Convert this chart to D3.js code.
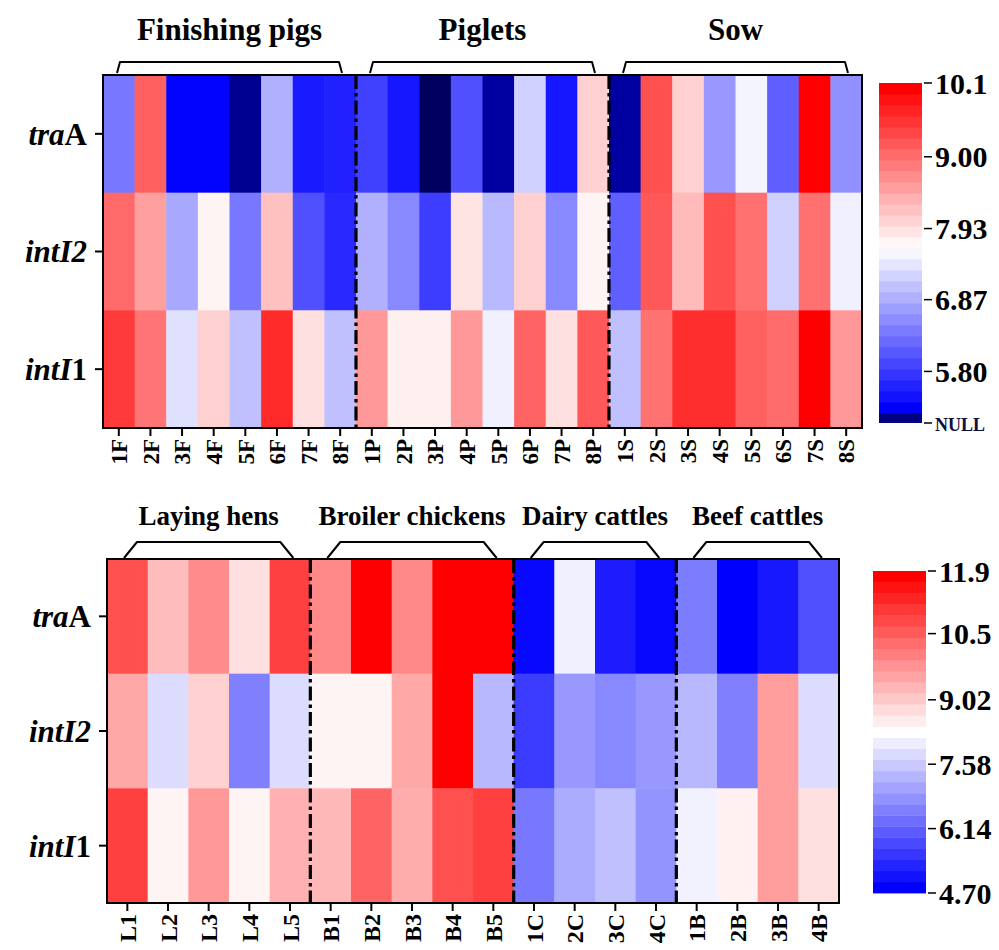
<!DOCTYPE html>
<html><head><meta charset="utf-8">
<script src="https://cdn.jsdelivr.net/npm/d3@7"></script>
<style>
body{margin:0;background:#fff}
svg{display:block}
text{font-family:"Liberation Serif","Times New Roman",serif;font-weight:bold;fill:#000}
</style>
</head><body>
<svg id="c" width="999" height="950"></svg>
<script>
// ---------------- DATA ----------------
const genes = ["traA", "intI2", "intI1"];

// Top panel (pigs)
const topCols = ["1F","2F","3F","4F","5F","6F","7F","8F",
                 "1P","2P","3P","4P","5P","6P","7P","8P",
                 "1S","2S","3S","4S","5S","6S","7S","8S"];
const topTraA  = [6.34, 9.17, 5.20, 5.20, 4.75, 6.88, 5.43, 5.50,
                  5.80, 5.40, 4.56, 5.95, 4.81, 7.19, 5.40, 8.09,
                  4.81, 9.33, 8.09, 6.65, 7.53, 6.10, 10.1, 6.57];
const topIntI2 = [9.09, 8.56, 6.80, 7.75, 6.34, 8.25, 5.95, 5.57,
                  6.88, 6.49, 5.77, 7.90, 6.96, 8.09, 6.49, 7.75,
                  6.10, 9.25, 8.31, 9.33, 9.02, 7.19, 9.02, 7.50];
const topIntI1 = [9.54, 8.98, 7.34, 8.09, 7.03, 9.69, 7.94, 7.03,
                  8.63, 7.78, 7.78, 8.63, 7.50, 9.14, 7.94, 9.25,
                  7.03, 9.00, 9.66, 9.66, 9.17, 9.06, 10.1, 8.63];
const topGroups = ["Finishing pigs", "Piglets", "Sow"];
const topGroupFirst = ["1F", "1P", "1S"];
const topGroupLast  = ["8F", "8P", "8S"];
const topTickValues = [10.1, 9.00, 7.93, 6.87, 5.80];
const topTickLabels = ["10.1", "9.00", "7.93", "6.87", "5.80"];
const topNullLabel = "NULL";

// Bottom panel (poultry & cattle)
const botCols = ["L1","L2","L3","L4","L5",
                 "B1","B2","B3","B4","B5",
                 "1C","2C","3C","4C",
                 "1B","2B","3B","4B"];
const botTraA  = [10.77, 9.25, 9.92, 8.74, 10.99,
                  9.98, 11.9, 9.98, 11.9, 11.9,
                  4.81, 8.09, 5.10, 4.81,
                  6.45, 4.70, 5.04, 5.83];
const botIntI2 = [9.53, 7.81, 8.96, 6.51, 7.81,
                  8.46, 8.46, 9.53, 11.9, 7.30,
                  5.55, 6.85, 6.62, 6.85,
                  7.30, 6.51, 9.70, 7.81];
const botIntI1 = [10.99, 8.46, 9.75, 8.46, 9.42,
                  9.30, 10.49, 9.47, 10.77, 10.99,
                  6.39, 7.13, 7.41, 6.79,
                  8.12, 8.50, 9.70, 8.74];
const botGroups = ["Laying hens", "Broiler chickens", "Dairy cattles", "Beef cattles"];
const botGroupFirst = ["L1", "B1", "1C", "1B"];
const botGroupLast  = ["L5", "B5", "4C", "4B"];
const botTickValues = [11.9, 10.5, 9.02, 7.58, 6.14, 4.70];
const botTickLabels = ["11.9", "10.5", "9.02", "7.58", "6.14", "4.70"];

// ---------------- DRAW ----------------
const svg = d3.select("#c");

const geneLabelParts = {
  traA:  [["tra", "italic"], ["A", "normal"]],
  intI2: [["intI2", "italic"]],
  intI1: [["intI", "italic"], ["1", "normal"]]
};

function panel(cfg) {
  const g = svg.append("g");
  const x = d3.scaleBand().domain(cfg.cols).range([cfg.x0, cfg.x1]);
  const y = d3.scaleBand().domain(genes).range([cfg.y0, cfg.y1]);
  const color = cfg.color;

  const cells = [];
  genes.forEach((gn, i) => cfg.rows[i].forEach((v, j) => cells.push({gene: gn, col: cfg.cols[j], v})));

  g.selectAll("rect.cell").data(cells).join("rect")
    .attr("class", "cell")
    .attr("x", d => x(d.col)).attr("y", d => y(d.gene))
    .attr("width", x.bandwidth() + 0.5).attr("height", y.bandwidth() + 0.5)
    .attr("fill", d => color(d.v));

  // separators (dash-dot)
  cfg.groupFirst.slice(1).forEach(c => {
    g.append("line")
      .attr("x1", x(c)).attr("x2", x(c))
      .attr("y1", cfg.y0).attr("y2", cfg.y1)
      .attr("stroke", "#000").attr("stroke-width", 3.2)
      .attr("stroke-dasharray", "14,4,3.5,4");
  });

  // frame
  g.append("rect").attr("x", cfg.x0).attr("y", cfg.y0)
    .attr("width", cfg.x1 - cfg.x0).attr("height", cfg.y1 - cfg.y0)
    .attr("fill", "none").attr("stroke", "#000").attr("stroke-width", 2);

  // x axis
  const xAxis = g.append("g").attr("transform", `translate(0,${cfg.y1})`)
    .call(d3.axisBottom(x).tickSize(8).tickSizeOuter(0).tickFormat(""));
  xAxis.select(".domain").remove();
  xAxis.selectAll(".tick line").attr("stroke-width", 2);
  g.selectAll("text.xl").data(cfg.cols).join("text")
    .attr("class", "xl")
    .attr("transform", d => `translate(${x(d) + x.bandwidth() / 2},${cfg.y1 + 11}) rotate(-90)`)
    .attr("text-anchor", "end").attr("dy", "0.36em")
    .style("font-size", cfg.xFont + "px")
    .text(d => d);

  // y axis ticks
  const yAxis = g.append("g").attr("transform", `translate(${cfg.x0},0)`)
    .call(d3.axisLeft(y).tickSize(8).tickSizeOuter(0).tickFormat(""));
  yAxis.select(".domain").remove();
  yAxis.selectAll(".tick line").attr("stroke-width", 2);
  genes.forEach(gn => {
    const t = g.append("text")
      .attr("x", cfg.x0 - 16).attr("y", y(gn) + y.bandwidth() / 2)
      .attr("dy", "0.35em").attr("text-anchor", "end")
      .style("font-size", "31px");
    geneLabelParts[gn].forEach(([s, st]) => t.append("tspan").style("font-style", st).text(s));
  });

  // group brackets & titles
  cfg.groups.forEach((name, k) => {
    const xa = x(cfg.groupFirst[k]) + cfg.inset;
    const xb = x(cfg.groupLast[k]) + x.bandwidth() - cfg.inset;
    const yt = cfg.bracketTop, yb = cfg.bracketBottom, d = cfg.slant;
    const path = d3.path();
    path.moveTo(xa, yb);
    path.lineTo(xa + d, yt);
    path.lineTo(xb - d, yt);
    path.lineTo(xb, yb);
    g.append("path").attr("d", path.toString())
      .attr("fill", "none").attr("stroke", "#000").attr("stroke-width", 2)
      .attr("stroke-linejoin", "round");
    g.append("text")
      .attr("x", (x(cfg.groupFirst[k]) + x(cfg.groupLast[k]) + x.bandwidth()) / 2)
      .attr("y", cfg.titleY).attr("text-anchor", "middle")
      .style("font-size", cfg.titleFont + "px")
      .text(name);
  });

  // colour bar
  const cb = cfg.cbar;
  const cy = d3.scaleLinear().domain([cb.lo, cb.hi]).range([cb.yBottom, cb.yTop]);
  const n = cb.bands;
  const bandVals = d3.range(n).map(i => cb.lo + (i + 0.5) * (cb.hi - cb.lo) / n);
  const step = (cb.hi - cb.lo) / n;
  g.selectAll("rect.cb").data(bandVals).join("rect")
    .attr("class", "cb")
    .attr("x", cb.x).attr("width", cb.w)
    .attr("y", d => cy(d + step / 2))
    .attr("height", d => cy(d - step / 2) - cy(d + step / 2) + 0.4)
    .attr("fill", (d, i) => color(cb.lo + i * (cb.hi - cb.lo) / (n - 1)));
  if (cb.nullH) {
    g.append("rect").attr("x", cb.x).attr("width", cb.w)
      .attr("y", cb.yBottom).attr("height", cb.nullH).attr("fill", "#000080");
  }
  const ticks = cb.ticks.map((v, i) => ({y: cy(v), label: cb.labels[i], size: cb.font}));
  if (cb.nullH) ticks.push({y: cb.yBottom + cb.nullH, label: cb.nullLabel, size: 18, nul: true});
  ticks.forEach(t => {
    g.append("line").attr("x1", cb.x + cb.w + 2).attr("x2", cb.x + cb.w + 10)
      .attr("y1", t.y).attr("y2", t.y).attr("stroke", "#000").attr("stroke-width", 1.5);
    g.append("text").attr("x", cb.x + cb.w + 13).attr("y", t.y)
      .attr("dy", t.nul ? "0.45em" : "0.35em")
      .style("font-size", t.size + "px")
      .style("fill", t.nul ? "#101040" : "#000")
      .text(t.label);
  });
}

// top panel
panel({
  cols: topCols, rows: [topTraA, topIntI2, topIntI1],
  x0: 103, x1: 862, y0: 75, y1: 428,
  color: d3.scaleLinear().domain([4.5, 5.18, 7.64, 10.1])
           .range(["#000050", "#0000ff", "#ffffff", "#ff0000"]).clamp(true),
  groups: topGroups, groupFirst: topGroupFirst, groupLast: topGroupLast,
  inset: 14, bracketTop: 62, bracketBottom: 73, slant: 3,
  titleY: 40, titleFont: 31, xFont: 23,
  cbar: {x: 879, w: 43, yTop: 83, yBottom: 413, lo: 5.18, hi: 10.1, bands: 30,
         nullH: 10, nullLabel: topNullLabel,
         ticks: topTickValues, labels: topTickLabels, font: 30}
});

// bottom panel
panel({
  cols: botCols, rows: [botTraA, botIntI2, botIntI1],
  x0: 107, x1: 839, y0: 559, y1: 903,
  color: d3.scaleLinear().domain([4.70, 8.30, 11.9])
           .range(["#0000ff", "#ffffff", "#ff0000"]).clamp(true),
  groups: botGroups, groupFirst: botGroupFirst, groupLast: botGroupLast,
  inset: 17, bracketTop: 542, bracketBottom: 558, slant: 13,
  titleY: 525, titleFont: 27, xFont: 24,
  cbar: {x: 873, w: 53, yTop: 571, yBottom: 893, lo: 4.70, hi: 11.9, bands: 29,
         nullH: 0, ticks: botTickValues, labels: botTickLabels, font: 30}
});
</script>
</body></html>
